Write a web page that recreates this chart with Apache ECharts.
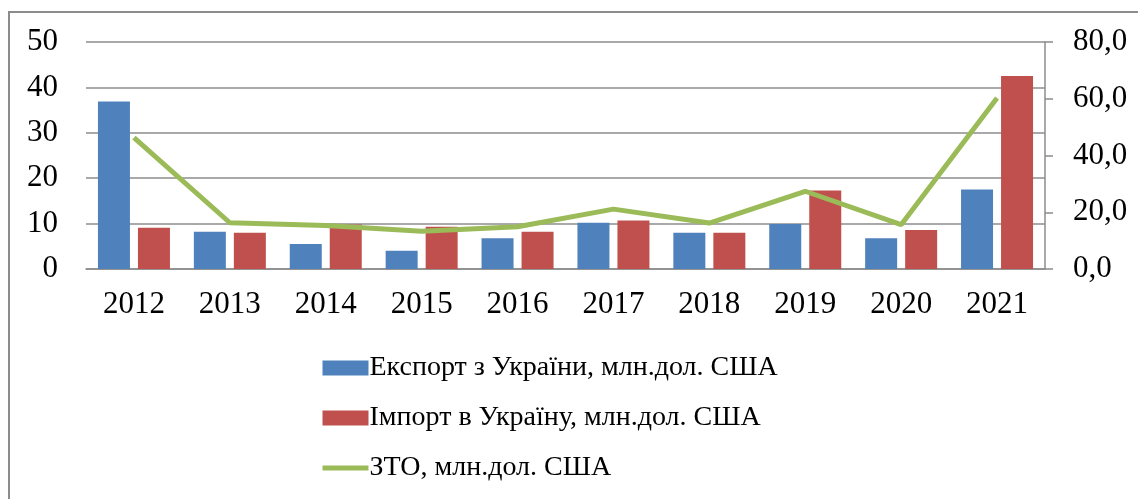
<!DOCTYPE html>
<html>
<head>
<meta charset="utf-8">
<script src="https://cdn.jsdelivr.net/npm/echarts@6/dist/echarts.min.js"></script>
<style>
html,body{margin:0;padding:0;background:#fff;}
#c{width:1138px;height:499px;}
</style>
</head>
<body>
<div id="c"></div>
<script>
const years = ['2012','2013','2014','2015','2016','2017','2018','2019','2020','2021'];
const exportUA = [36.9, 8.2, 5.5, 4.0, 6.8, 10.2, 8.0, 9.9, 6.8, 17.5];
const importUA = [9.1, 8.0, 9.8, 9.3, 8.2, 10.7, 8.0, 17.3, 8.6, 42.5];
const zto = [46.3, 16.3, 15.3, 13.3, 14.9, 21.1, 16.2, 27.4, 15.6, 60.3];
const seriesNames = ['Експорт з України, млн.дол. США', 'Імпорт в Україну, млн.дол. США', 'ЗТО, млн.дол. США'];

const FONT = '"Liberation Serif", "DejaVu Serif", serif';
const GRID = '#8C8C8C';

const chart = echarts.init(document.getElementById('c'), null, {renderer: 'canvas'});
chart.setOption({
  animation: false,
  backgroundColor: '#fff',
  textStyle: {fontFamily: FONT},
  graphic: [{
    type: 'rect',
    shape: {x: 9, y: 12, width: 1200, height: 600},
    style: {fill: 'none', stroke: GRID, lineWidth: 2},
    silent: true,
    z: -1
  }],
  grid: {left: 86, right: 93, top: 42, bottom: 230, containLabel: false},
  legend: {
    orient: 'vertical',
    left: 315,
    top: 348,
    itemWidth: 46,
    itemHeight: 15,
    itemGap: 20,
    textStyle: {fontFamily: FONT, fontSize: 28, color: '#000', lineHeight: 30, padding: [0, 0, 0, -4]},
    data: [
      {name: seriesNames[0], icon: 'rect'},
      {name: seriesNames[1], icon: 'rect'},
      {name: seriesNames[2], itemStyle: {opacity: 0}, lineStyle: {color: '#9BBB59', width: 5}}
    ]
  },
  xAxis: {
    type: 'category',
    data: years,
    axisLine: {show: true, lineStyle: {color: GRID, width: 1.5}},
    axisTick: {show: false},
    axisLabel: {fontFamily: FONT, fontSize: 31, color: '#000', margin: 20}
  },
  yAxis: [{
    type: 'value',
    min: 0, max: 50, interval: 10,
    axisLine: {show: false},
    axisTick: {show: false},
    splitLine: {show: true, lineStyle: {color: GRID, width: 1.5}},
    axisLabel: {fontFamily: FONT, fontSize: 31, color: '#000', margin: 28}
  }, {
    type: 'value',
    position: 'right',
    min: 0, max: 80, interval: 20,
    axisLine: {show: true, lineStyle: {color: GRID, width: 1.5}},
    axisTick: {show: true, length: 8, lineStyle: {color: GRID, width: 1.5}},
    splitLine: {show: false},
    axisLabel: {fontFamily: FONT, fontSize: 31, color: '#000', margin: 28,
      formatter: v => v.toFixed(1).replace('.', ',')}
  }],
  series: [{
    name: seriesNames[0],
    type: 'bar',
    data: exportUA,
    barWidth: 32,
    barGap: '25%',
    itemStyle: {color: '#4F81BD'}
  }, {
    name: seriesNames[1],
    type: 'bar',
    data: importUA,
    barWidth: 32,
    barGap: '25%',
    itemStyle: {color: '#C0504D'}
  }, {
    name: seriesNames[2],
    type: 'line',
    yAxisIndex: 1,
    data: zto,
    symbol: 'none',
    lineStyle: {color: '#9BBB59', width: 5},
    itemStyle: {color: '#9BBB59'},
    z: 5
  }]
});
</script>
</body>
</html>
